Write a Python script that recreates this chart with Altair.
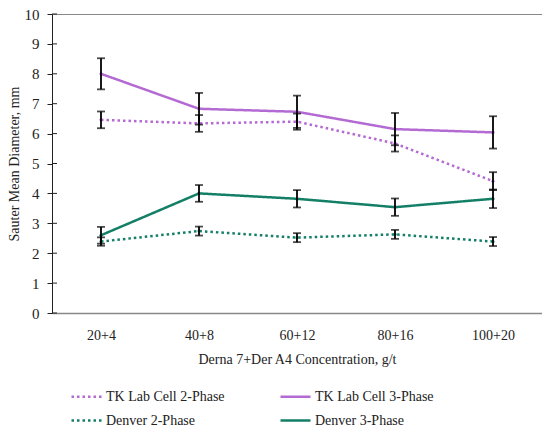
import altair as alt
import pandas as pd

categories = ["20+4", "40+8", "60+12", "80+16", "100+20"]
series_names = ["TK Lab Cell 2-Phase", "TK Lab Cell 3-Phase", "Denver 2-Phase", "Denver 3-Phase"]
legend_order = ["TK Lab Cell 2-Phase", "Denver 2-Phase", "TK Lab Cell 3-Phase", "Denver 3-Phase"]
y_ticks = [0, 1, 2, 3, 4, 5, 6, 7, 8, 9, 10]

tk2 = [6.46, 6.34, 6.40, 5.67, 4.41]
tk2_err = [0.28, 0.28, 0.27, 0.27, 0.30]
tk3 = [8.00, 6.83, 6.73, 6.15, 6.04]
tk3_err = [0.52, 0.53, 0.54, 0.54, 0.54]
den2 = [2.39, 2.74, 2.52, 2.63, 2.39]
den2_err = [0.14, 0.15, 0.15, 0.15, 0.15]
den3 = [2.60, 4.00, 3.82, 3.54, 3.82]
den3_err = [0.28, 0.28, 0.29, 0.29, 0.31]

rows = []
for name, vals, errs in zip(series_names, [tk2, tk3, den2, den3], [tk2_err, tk3_err, den2_err, den3_err]):
    for c, v, e in zip(categories, vals, errs):
        rows.append({"conc": c, "series": name, "value": v, "lo": v - e, "hi": v + e})
df = pd.DataFrame(rows)

FONT = "Liberation Serif"
color_map = {"TK Lab Cell 2-Phase": "#B36AD3", "TK Lab Cell 3-Phase": "#B36AD3",
             "Denver 2-Phase": "#137F67", "Denver 3-Phase": "#137F67"}
dash_map = {"TK Lab Cell 2-Phase": [2.5, 3], "TK Lab Cell 3-Phase": [1, 0],
            "Denver 2-Phase": [2.5, 3], "Denver 3-Phase": [1, 0]}

x_axis = alt.Axis(title="Derna 7+Der A4 Concentration, g/t", labelAngle=0,
                  ticks=False, domainColor="#888888", domainWidth=1.5,
                  labelPadding=15, titlePadding=10)
x_scale = alt.Scale(type="point", padding=0.5)
y_axis = alt.Axis(title="Sauter Mean Diameter, mm", values=y_ticks, labelOverlap=False,
                  grid=False, domainColor="#222222", tickColor="#222222",
                  tickSize=5, labelPadding=8, titlePadding=3, labelFontSize=15)
y_scale = alt.Scale(domain=[0, 10], nice=False)


def X():
    return alt.X("conc:N", sort=categories, scale=x_scale, axis=x_axis)


def Y(field):
    return alt.Y(field, scale=y_scale, axis=y_axis)


lines = alt.Chart(df).mark_line(strokeWidth=2.5, point=alt.OverlayMarkDef(size=10, filled=True)).encode(
    x=X(),
    y=Y("value:Q"),
    color=alt.Color("series:N", sort=legend_order,
                    scale=alt.Scale(domain=legend_order, range=[color_map[s] for s in legend_order]),
                    legend=alt.Legend(title=None, orient="none", legendX=18, legendY=366,
                                      columns=2, columnPadding=50, rowPadding=0,
                                      symbolType="stroke", symbolSize=900, symbolStrokeWidth=2.5,
                                      labelFont=FONT, labelFontSize=14, labelColor="#222222",
                                      labelOffset=3)),
    strokeDash=alt.StrokeDash("series:N", sort=legend_order,
                              scale=alt.Scale(domain=legend_order, range=[dash_map[s] for s in legend_order])),
    detail="series:N",
)

bars = alt.Chart(df).mark_rule(color="black", strokeWidth=1.8).encode(
    x=X(),
    y=Y("lo:Q"),
    y2="hi:Q",
)
caps_lo = alt.Chart(df).mark_tick(color="black", thickness=1.8, size=8, orient="horizontal").encode(
    x=X(),
    y=Y("lo:Q"),
)
caps_hi = alt.Chart(df).mark_tick(color="black", thickness=1.8, size=8, orient="horizontal").encode(
    x=X(),
    y=Y("hi:Q"),
)

ytick_df = pd.DataFrame({"t": y_ticks})
inner_ticks = alt.Chart(ytick_df).mark_rule(color="#222222", strokeWidth=1).encode(
    y=Y("t:Q"),
    x=alt.value(0),
    x2=alt.value(5),
)

chart = alt.layer(lines, bars, caps_lo, caps_hi, inner_ticks).properties(
    width=490, height=299,
    autosize=alt.AutoSizeParams(type="none"),
    padding={"left": 44, "top": 6, "right": 0, "bottom": 120},
    background="white",
).configure_view(
    stroke="#888888", strokeWidth=1
).configure_axis(
    labelFont=FONT, titleFont=FONT, labelFontSize=14, titleFontSize=14,
    labelColor="#222222", titleColor="#222222", titleFontWeight="normal"
)

chart.save("out.html", embed_options={"renderer": "svg", "actions": False})
